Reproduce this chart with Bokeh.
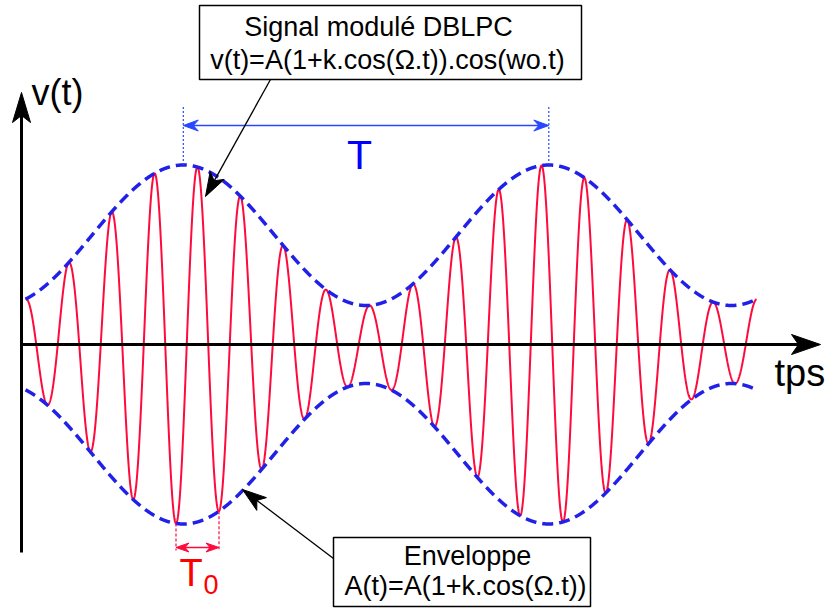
import numpy as np
from bokeh.plotting import figure
from bokeh.models import Range1d, Label, BoxAnnotation
from bokeh.embed import file_html
from bokeh.resources import INLINE

# ---- signal parameters (time in carrier periods, amplitude in units of A)
T0 = 1.0            # carrier period
T = 8.5             # modulating (envelope) period
t_peak = 3.67       # time of the envelope maximum
A = 1.0             # mean amplitude
k = 0.643           # modulation index
t_start, t_end = 0.0, 17.0

# ---- texts
box_top_lines = ["Signal modulé DBLPC", "v(t)=A(1+k.cos(Ω.t)).cos(wo.t)"]
box_bottom_lines = ["Enveloppe", "A(t)=A(1+k.cos(Ω.t))"]
y_label, x_label = "v(t)", "tps"

# ---- colours / fonts
RED = "#ff0a3c"
BLUE_ENV = "#2020e8"
BLUE_DIM = "#2848ff"
FONT = "Liberation Sans"

# layout helpers: reference-picture pixel <-> data units
SX, SY, X0, Y0 = 43.0, 109.25, 25.0, 344.0

def dx(px):
    return (px - X0) / SX

def dy(py):
    return (Y0 - py) / SY

def px_of(t_):
    return X0 + SX * t_

def py_of(v_):
    return Y0 - SY * v_

t = np.linspace(t_start, t_end, 4000)
env = A * (1 + k * np.cos(2 * np.pi * (t - t_peak) / T))
v = env * np.cos(2 * np.pi * t / T0)

p = figure(width=828, height=609, output_backend="svg", toolbar_location=None,
           x_range=Range1d(dx(0), dx(828)), y_range=Range1d(dy(609), dy(0)),
           min_border=0, outline_line_color=None)
p.axis.visible = False
p.grid.visible = False
p.background_fill_color = "white"
p.border_fill_color = "white"


def arrow(x0p, y0p, x1p, y1p, color, width, length, half_w, notch, both=False, dash="solid"):
    """Arrow in picture pixels: shaft plus stealth head(s)."""
    ux, uy = x1p - x0p, y1p - y0p
    n = np.hypot(ux, uy)
    ux, uy = ux / n, uy / n
    nx, ny = -uy, ux
    ends = [(x1p, y1p, ux, uy)]
    if both:
        ends.append((x0p, y0p, -ux, -uy))
    sx0, sy0, sx1, sy1 = x0p, y0p, x1p, y1p
    xs_all, ys_all = [], []
    for (tx, ty, ax, ay) in ends:
        bx, by = tx - length * ax, ty - length * ay
        mx, my = tx - (length - notch) * ax, ty - (length - notch) * ay
        pts = [(tx, ty), (bx + half_w * nx, by + half_w * ny), (mx, my),
               (bx - half_w * nx, by - half_w * ny)]
        xs_all.append([dx(q[0]) for q in pts])
        ys_all.append([dy(q[1]) for q in pts])
        # shorten shaft into the head
        cx, cy = tx - (length - notch - 1.5) * ax, ty - (length - notch - 1.5) * ay
        if (tx, ty) == (x1p, y1p):
            sx1, sy1 = cx, cy
        else:
            sx0, sy0 = cx, cy
    p.segment(x0=[dx(sx0)], y0=[dy(sy0)], x1=[dx(sx1)], y1=[dy(sy1)],
              line_color=color, line_width=width, line_dash=dash)
    p.patches(xs_all, ys_all, fill_color=color, line_color=color, line_width=1)


# signal and envelope
p.line(t, v, line_color=RED, line_width=2)
p.line(t, env, line_color=BLUE_ENV, line_width=3.5, line_dash="11 6")
p.line(t, -env, line_color=BLUE_ENV, line_width=3.5, line_dash="11 6")

# axes with arrows
arrow(21, py_of(0), 820, py_of(0), "black", 3, 29, 10, 7)
arrow(21, 552, 21, 92, "black", 3, 30, 9, 7)

# T dimension
env_max = A * (1 + k)
for tx in (t_peak, t_peak + T):
    p.segment(x0=[tx], y0=[env_max], x1=[tx], y1=[dy(105)], line_color=BLUE_DIM,
              line_width=1.2, line_dash="2 2")
arrow(px_of(t_peak), 125, px_of(t_peak + T), 125, BLUE_DIM, 1.5, 15, 5.5, 5, both=True)

# T0 dimension
tr0 = 3.5 * T0
tr1 = tr0 + T0
for tx in (tr0, tr1):
    e = A * (1 + k * np.cos(2 * np.pi * (tx - t_peak) / T))
    p.segment(x0=[tx], y0=[-e], x1=[tx], y1=[dy(550)], line_color=RED,
              line_width=1.2, line_dash="3 2")
arrow(px_of(tr0), 547, px_of(tr1), 547, RED, 1.5, 13, 4.5, 4, both=True)

# annotation arrows
arrow(270, 79, 205, 196, "black", 1.3, 24, 8, 6)
arrow(333, 558, 242, 489, "black", 1.3, 24, 8, 6)

# text boxes
p.add_layout(BoxAnnotation(left=dx(199), right=dx(581), top=dy(5), bottom=dy(79),
                           fill_color="white", fill_alpha=1, line_color="black",
                           line_alpha=1, line_width=1.5))
p.add_layout(BoxAnnotation(left=dx(333), right=dx(590), top=dy(537), bottom=dy(606),
                           fill_color="white", fill_alpha=1, line_color="black",
                           line_alpha=1, line_width=1.5))

BL = 0.34  # baseline correction (em) for Label's alphabetic anchor


def label(text, xp, base_py, size, color="black", align="left"):
    p.add_layout(Label(x=dx(xp), y=dy(base_py - BL * size), text=text, text_font=FONT,
                       text_font_size=f"{size}px", text_color=color, text_align=align,
                       text_baseline="alphabetic"))


label("T", 359, 168, 41, "#0000ff", "center")
label("T", 179, 585, 38, "#ff0000")
label("0", 203, 593, 27, "#ff0000")
label(y_label, 31, 104, 36)
label(x_label, 774, 385, 38)
for txt, cx, by in zip(box_top_lines, (378, 387), (35.5, 68.5)):
    label(txt, cx, by, 27, align="center")
for txt, cx, by in zip(box_bottom_lines, (467, 465), (565, 595)):
    label(txt, cx, by, 27, align="center")

open("out.html", "w").write(file_html(p, INLINE))
